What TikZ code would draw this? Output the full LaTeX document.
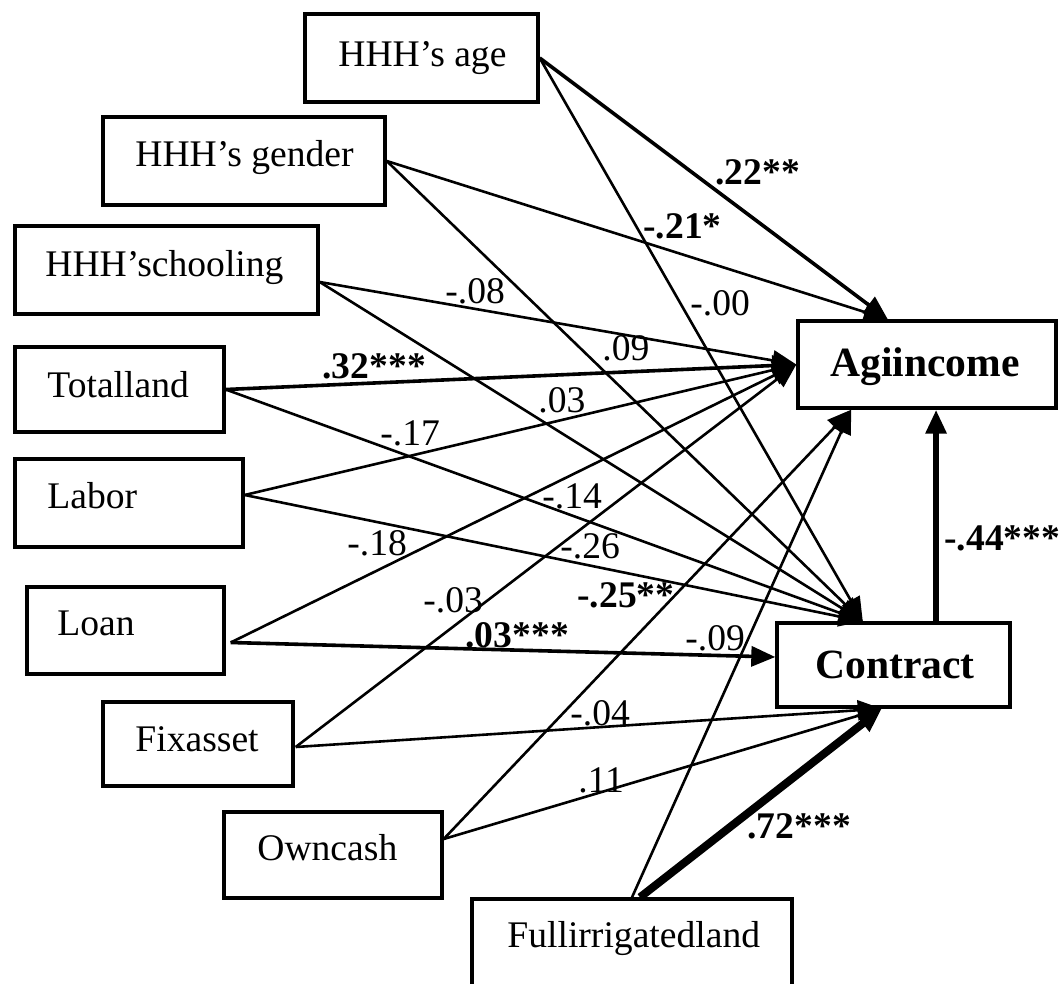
\documentclass[tikz,border=0pt]{standalone}
\usepackage{fontspec}
\setmainfont{Liberation Serif}
\usetikzlibrary{arrows.meta,calc,fit}

\tikzset{
  box/.style={draw, line width=1.7pt, rectangle, inner sep=0pt},
  vname/.style={font=\fontsize{18.8}{22}\selectfont, inner sep=0pt, anchor=base west},
  dvname/.style={font=\fontsize{20.8}{24}\selectfont\bfseries, inner sep=0pt, anchor=base west},
  coef/.style={font=\fontsize{18.8}{22}\selectfont, inner sep=0pt, anchor=base west},
  sigcoef/.style={font=\fontsize{18.8}{22}\selectfont\bfseries, inner sep=0pt, anchor=base west},
  effect/.style={line width=1.3pt, -{Triangle[length=12pt,width=10pt]}},
  strong/.style={effect, line width=1.8pt},
}

\begin{document}
\begin{tikzpicture}[x=0.5pt, y=-0.5pt]
\useasboundingbox (0,0) rectangle (1059,984);

% variable boxes
\node[box, fit={(305,14) (538,102)}]   (age)  {};
\node[box, fit={(103,117) (385,205)}]  (gen)  {};
\node[box, fit={(15,226) (318,314)}]   (sch)  {};
\node[box, fit={(15,347) (224,432)}]   (tot)  {};
\node[box, fit={(15,459) (243,547)}]   (lab)  {};
\node[box, fit={(27,587) (224,674)}]   (loan) {};
\node[box, fit={(103,702) (293,786)}]  (fix)  {};
\node[box, fit={(224,812) (442,898)}]  (own)  {};
\node[box, fit={(472,899) (792,987)}]  (full) {};
\node[box, fit={(798,321) (1056,408)}] (agi)  {};
\node[box, fit={(777,623) (1010,707)}] (con)  {};

% box texts
\node[vname] at (338,67)  {HHH’s age};
\node[vname] at (135,167) {HHH’s gender};
\node[vname] at (45,277)  {HHH’schooling};
\node[vname] at (47,397)  {Totalland};
\node[vname] at (47,508)  {Labor};
\node[vname] at (57,635)  {Loan};
\node[vname] at (135,751) {Fixasset};
\node[vname] at (257,860) {Owncash};
\node[vname] at (507,947) {Fullirrigatedland};
\node[dvname] at (830,376) {Agiincome};
\node[dvname] at (815,678) {Contract};

% ports on the outcome boxes
\coordinate (agiL) at (agi.west);
\coordinate (agiT) at ($(agi.north west)!0.35!(agi.north east)$);
\coordinate (agiB) at ($(agi.south west)!0.21!(agi.south east)$);
\coordinate (conT) at ($(con.north west)!0.37!(con.north east)$);
\coordinate (conL) at ($(con.west)+(0,-8)$);
\coordinate (conB) at ($(con.south west)!0.45!(con.south east)$);
\coordinate (conU) at ($(con.north west)!0.68!(con.north east)$);

% ports on the predictor boxes
\coordinate (ageO)  at (age.east);
\coordinate (genO)  at (gen.east);
\coordinate (schO)  at ($(sch.east)+(0,12)$);
\coordinate (totO)  at (tot.east);
\coordinate (labO)  at ($(lab.east)+(0,-8)$);
\coordinate (loanO) at ($(loan.east)+(5,12)$);
\coordinate (fixO)  at ($(fix.east)+(1,3)$);
\coordinate (ownO)  at ($(own.east)+(0,-16)$);
\coordinate (fullO) at (full.north);
\coordinate (fullP) at ($(full.north)+(8,0)$);

% paths to Agiincome
\draw[strong] (ageO) -- (agiT);
\draw[effect] (genO) -- (agiT);
\draw[effect] (schO) -- (agiL);
\draw[strong] (totO) -- (agiL);
\draw[effect] (labO) -- (agiL);
\draw[effect] (loanO) -- (agiL);
\draw[effect] (fixO) -- (agiL);
\draw[effect] (ownO) -- (agiB);
\draw[effect] (fullO) -- (agiB);

% paths to Contract
\draw[effect] (ageO) -- (conT);
\draw[effect] (genO) -- (conT);
\draw[effect] (schO) -- (conT);
\draw[effect] (totO) -- (conT);
\draw[effect] (labO) -- (conT);
\draw[strong] (loanO) -- (conL);
\draw[effect] (fixO) -- (conB);
\draw[effect] (ownO) -- (conB);
\draw[effect, line width=4pt] (fullP) -- (conB);

% mediating path
\draw[effect, line width=3pt] (conU) -- (conU |- agi.south);

% coefficients
\node[sigcoef] at (715,185) {.22**};
\node[sigcoef] at (643,239) {-.21*};
\node[coef]    at (690,315) {-.00};
\node[coef]    at (445,303) {-.08};
\node[coef]    at (602,360) {.09};
\node[sigcoef] at (322,378) {.32***};
\node[coef]    at (538,412) {.03};
\node[coef]    at (380,445) {-.17};
\node[coef]    at (542,508) {-.14};
\node[coef]    at (347,555) {-.18};
\node[coef]    at (560,558) {-.26};
\node[sigcoef] at (577,607) {-.25**};
\node[coef]    at (423,612) {-.03};
\node[sigcoef] at (465,647) {.03***};
\node[coef]    at (685,650) {-.09};
\node[coef]    at (570,725) {-.04};
\node[coef]    at (578,792) {.11};
\node[sigcoef] at (747,838) {.72***};
\node[sigcoef] at (944,550) {-.44***};
\end{tikzpicture}
\end{document}
